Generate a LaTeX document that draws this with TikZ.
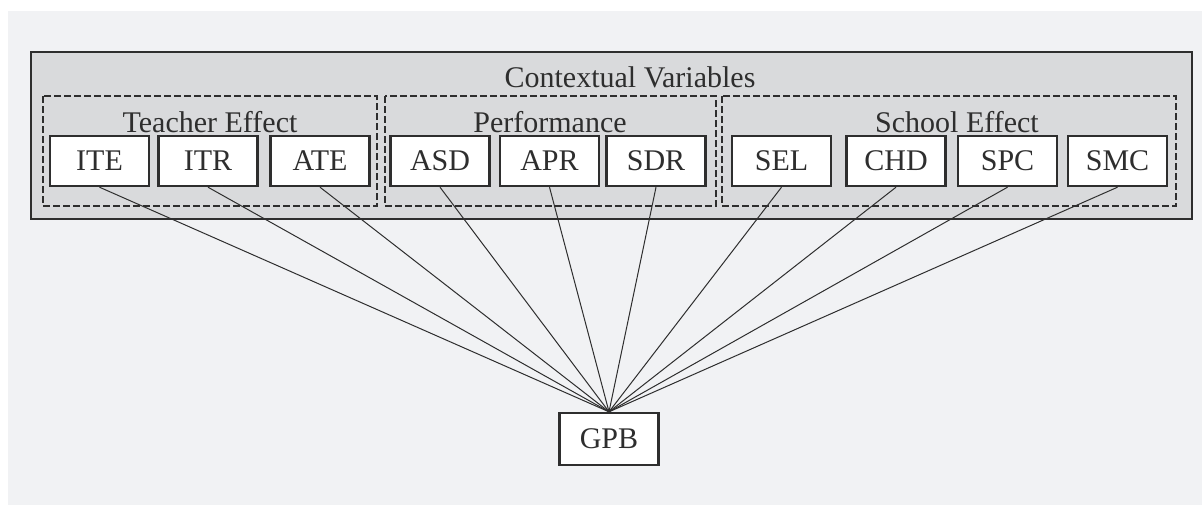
\documentclass[tikz,border=0pt]{standalone}
\usepackage{fontspec}
\setmainfont{Liberation Serif}
\definecolor{pagebg}{HTML}{F1F2F4}
\definecolor{outerfill}{HTML}{D9DADC}
\definecolor{ink}{HTML}{2E2E2E}

\begin{document}
\begin{tikzpicture}[x=0.5pt,y=-0.5pt]
        \tikzstyle{every node}+=[inner sep=0pt, font=\fontsize{15}{18}\selectfont, text=ink]
        \tikzstyle{varbox}=[draw=ink, line width=1.2pt, fill=white, minimum width=49.5pt, minimum height=25pt]
        \tikzstyle{groupbox}=[draw=ink, line width=1pt, dash pattern=on 3.5pt off 1.5pt]
        \tikzstyle{grouplabel}=[anchor=base]
        \useasboundingbox (0,0) rectangle (1202,505);
        \fill [pagebg] (8,11) rectangle (1202,505);
        \draw [ink, line width=1.2pt, fill=outerfill] (31,52) rectangle (1192,219);
        \node [grouplabel] (ctx) at (630,87) {Contextual Variables};
        \draw [groupbox] (43,96) rectangle (377,206);
        \draw [groupbox] (385,96) rectangle (716,206);
        \draw [groupbox] (722,96) rectangle (1176,206);
        \node [grouplabel] (teacher) at (210,132) {Teacher Effect};
        \node [grouplabel] (perf) at (550,132) {Performance};
        \node [grouplabel] (school) at (957,132) {School Effect};
        \node [varbox] (ITE) at (99.5,161) {ITE};
        \node [varbox] (ITR) at (208,161) {ITR};
        \node [varbox] (ATE) at (320,161) {ATE};
        \node [varbox] (ASD) at (440,161) {ASD};
        \node [varbox] (APR) at (549.5,161) {APR};
        \node [varbox] (SDR) at (656,161) {SDR};
        \node [varbox] (SEL) at (781.5,161) {SEL};
        \node [varbox] (CHD) at (896,161) {CHD};
        \node [varbox] (SPC) at (1007.5,161) {SPC};
        \node [varbox] (SMC) at (1117.5,161) {SMC};
        \node [varbox, minimum height=26pt] (GPB) at (609,439) {GPB};
        \foreach \v in {ITE,ITR,ATE,ASD,APR,SDR,SEL,CHD,SPC,SMC}
                \draw [ink, line width=0.5pt] (\v.south) -- (GPB.north);
        \end{tikzpicture}
\end{document}
